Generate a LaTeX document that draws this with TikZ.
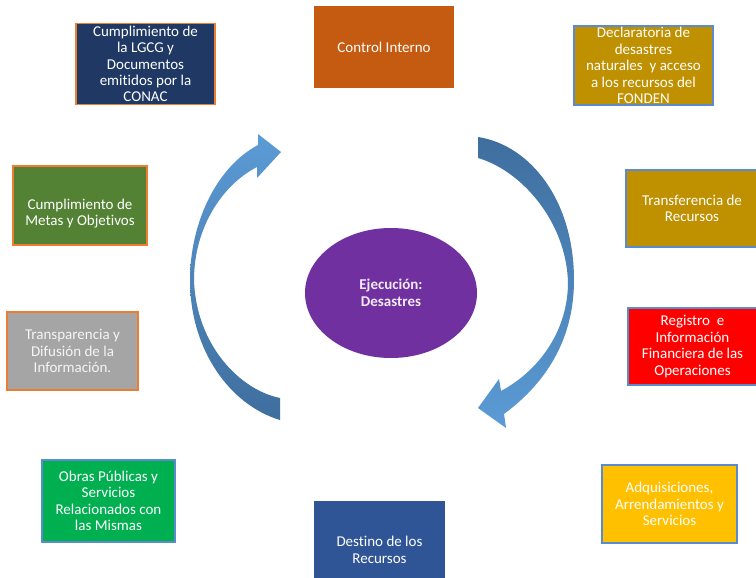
\documentclass[tikz,border=0pt]{standalone}
\usepackage{fontspec}
\setmainfont{Carlito}[Ligatures={NoCommon}]
\usetikzlibrary{shapes.geometric}
\definecolor{cnavy}{HTML}{1F3864}
\definecolor{corange}{HTML}{C55A11}
\definecolor{cgold}{HTML}{BF9000}
\definecolor{cgreen}{HTML}{548235}
\definecolor{cgray}{HTML}{A5A5A5}
\definecolor{cred}{HTML}{FF0000}
\definecolor{cbright}{HTML}{00B050}
\definecolor{cyellow}{HTML}{FFC000}
\definecolor{cblue}{HTML}{2F5597}
\definecolor{cpurple}{HTML}{7030A0}
\definecolor{borange}{HTML}{ED7D31}
\definecolor{bblue}{HTML}{5B8BCF}
\definecolor{arrowlight}{HTML}{5B9BD5}
\definecolor{arrowdark}{HTML}{3F6E9E}
\begin{document}
\begin{tikzpicture}[x=1pt,y=-1pt,
  box/.style={rectangle, inner sep=0pt, line width=1.3pt, align=center,
    text=white, font=\fontsize{15pt}{16.4pt}\selectfont},
  boxtext/.style={inner sep=0pt, align=center, text=white,
    font=\fontsize{15pt}{16.4pt}\selectfont}
]
\useasboundingbox (0,0) rectangle (756,578);
\fill[white] (0,0) rectangle (756,578);

% boxes
\node[box, fill=cnavy, draw=borange, minimum width=139pt, minimum height=81pt] (lgcg) at (145.5,64)
  {Cumplimiento de\\la LGCG y\\Documentos\\emitidos por la\\CONAC};
\node[box, fill=corange, draw=corange, minimum width=138pt, minimum height=80pt] (ctrl) at (384,47)
  {Control Interno};
\node[box, fill=cgold, draw=bblue, minimum width=139pt, minimum height=79pt] (decl) at (643.5,65.5)
  {Declaratoria de\\desastres\\naturales\ \ y acceso\\a los recursos del\\FONDEN};
\node[box, fill=cgreen, draw=borange, minimum width=134pt, minimum height=79pt] (metas) at (80,205.5) {};
\node[boxtext] (metas-t) at ([yshift=-8pt]metas.center) {Cumplimiento de\\Metas y Objetivos};
\node[box, fill=cgold, draw=bblue, minimum width=132pt, minimum height=77pt] (transf) at (692,208.5)
  {Transferencia de\\Recursos};
\node[box, fill=cgray, draw=borange, minimum width=131pt, minimum height=78pt, text=white!92!gray] (transp) at (72.5,351)
  {Transparencia y\\Difusión de la\\Información.};
\node[box, fill=cred, draw=bblue, minimum width=129pt, minimum height=77pt] (reg) at (692.5,346.5)
  {Registro\ \ e\\Información\\Financiera de las\\Operaciones};
\node[box, fill=cbright, draw=bblue, minimum width=133pt, minimum height=82pt] (obras) at (108.5,501)
  {Obras Públicas y\\Servicios\\Relacionados con\\las Mismas};
\node[box, fill=cyellow, draw=bblue, minimum width=135pt, minimum height=78pt] (adq) at (669.5,504)
  {Adquisiciones,\\Arrendamientos y\\Servicios};
\node[box, fill=cblue, draw=cblue, minimum width=129pt, minimum height=80pt] (dest) at (379.5,542) {};
\node[boxtext] (dest-t) at ([yshift=-8pt]dest.center) {Destino de los\\Recursos};

% central ellipse
\node[ellipse, fill=cpurple, inner sep=0pt, minimum width=172pt, minimum height=130pt,
  align=center, text=white!90!cpurple, font=\bfseries\fontsize{15pt}{17pt}\selectfont] (exec) at (391,293)
  {Ejecución:\\Desastres};

% left curved arrow (pointing up-right)
\shade[top color=arrowlight, bottom color=arrowdark]
  (280,420) -- (280,398)
  .. controls (240,390) and (196,345) .. (194,280)
  .. controls (194,228) and (222,185) .. (257,167)
  -- (257,178) -- (281,152) -- (258,134) -- (258,145)
  .. controls (215,168) and (190,225) .. (190,280)
  .. controls (190,350) and (230,405) .. (280,420) -- cycle;

% right curved arrow (pointing down-left)
\shade[top color=arrowdark, bottom color=arrowlight]
  (478,137) -- (478,158)
  .. controls (520,170) and (566,220) .. (568,282)
  .. controls (568,330) and (540,370) .. (501,391)
  -- (499,379) -- (478,408) -- (506,428) -- (504,414)
  .. controls (550,380) and (574,335) .. (574,280)
  .. controls (574,200) and (530,145) .. (478,137) -- cycle;
\end{tikzpicture}
\end{document}
